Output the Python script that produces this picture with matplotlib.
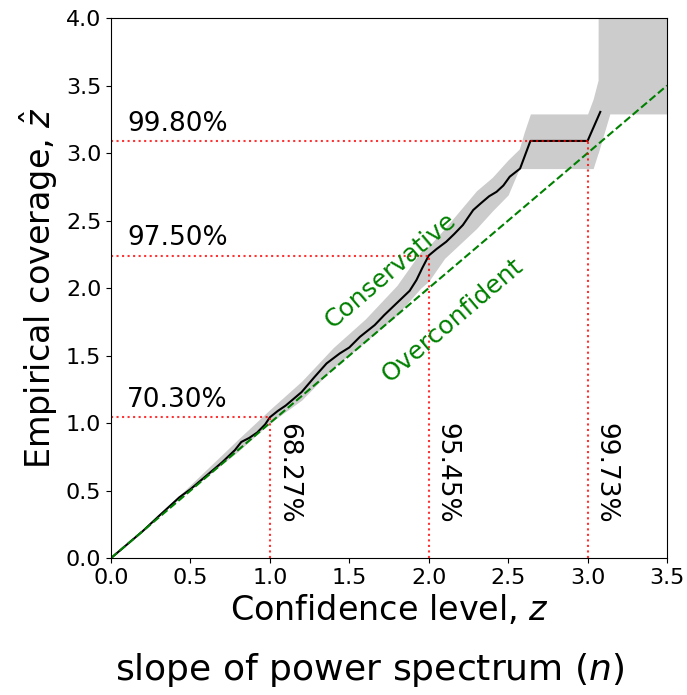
import numpy as np
import matplotlib.pyplot as plt

# empirical coverage z_hat against nominal confidence level z
z_nominal = [0.0, 0.1, 0.2, 0.3, 0.43, 0.5, 0.6, 0.7, 0.78, 0.82, 0.87, 0.92,
             0.97, 1.0, 1.05, 1.1, 1.2, 1.28, 1.357, 1.44, 1.5, 1.567, 1.66,
             1.72, 1.8, 1.88, 1.923, 1.96, 2.0, 2.05, 2.11, 2.16, 2.215, 2.28,
             2.33, 2.38, 2.427, 2.47, 2.51, 2.575, 2.64, 3.0, 3.08]
z_hat = [0.0, 0.1, 0.2, 0.31, 0.45, 0.51, 0.61, 0.71, 0.80, 0.86, 0.89, 0.93,
         0.99, 1.043, 1.09, 1.13, 1.23, 1.34, 1.442, 1.516, 1.56, 1.639, 1.726,
         1.80, 1.89, 1.98, 2.06, 2.15, 2.241, 2.29, 2.343, 2.40, 2.467, 2.578,
         2.63, 2.68, 2.713, 2.76, 2.825, 2.885, 3.090, 3.090, 3.305]

# uncertainty band on z_hat
band_z = [0.0, 0.4, 0.8, 1.0, 1.2, 1.4, 1.6, 1.8, 1.95, 2.0, 2.1, 2.2, 2.3,
          2.4, 2.5, 2.57, 2.6, 2.64, 3.0, 3.035, 3.066, 3.067, 3.14, 3.5]
band_lo = [0.0, 0.41, 0.79, 1.00, 1.17, 1.41, 1.60, 1.80, 2.0, 2.05, 2.22,
           2.33, 2.44, 2.57, 2.69, 2.885, 2.885, 2.885, 2.885, 2.885, 3.0,
           3.0, 3.29, 3.29]
band_hi = [0.0, 0.43, 0.88, 1.10, 1.31, 1.56, 1.77, 2.02, 2.27, 2.31, 2.44,
           2.58, 2.72, 2.82, 2.95, 3.03, 3.15, 3.29, 3.29, 3.40, 3.54, 4.5,
           4.5, 4.5]

# reference sigma levels and the coverage reached there
ref_z = [1.0, 2.0, 3.0]
ref_nominal = ["68.27%", "95.45%", "99.73%"]
ref_zhat = [1.043, 2.241, 3.090]
ref_empirical = ["70.30%", "97.50%", "99.80%"]

fig = plt.figure(figsize=(6.87, 6.95), dpi=100)
ax = fig.add_axes([0.1616, 0.197, 0.8093, 0.777])

ax.fill_between(band_z, band_lo, band_hi, color="gray", alpha=0.4, lw=0)
ax.plot(z_nominal, z_hat, color="k", lw=1.5)
ax.plot([0, 3.5], [0, 3.5], "--", color="green", lw=1.5)

for z, zh, lab_n, lab_e in zip(ref_z, ref_zhat, ref_nominal, ref_empirical):
    ax.plot([0, z], [zh, zh], ":", color="red", lw=1.5, alpha=0.8)
    ax.plot([z, z], [0, zh], ":", color="red", lw=1.5, alpha=0.8)
    ax.text(0.1, zh + 0.03, lab_e, fontsize=19, ha="left", va="bottom")
    ax.text(z + 0.03, 1.0, lab_n, rotation=270, fontsize=19,
            ha="left", va="top")

ax.text(1.76, 2.13, "Conservative", rotation=40.4, color="green",
        fontsize=18, ha="center", va="center")
ax.text(2.15, 1.76, "Overconfident", rotation=40.4, color="green",
        fontsize=18, ha="center", va="center")

ax.set_xlim(0, 3.5)
ax.set_ylim(0, 4.0)
ax.set_xticks(np.arange(0, 3.51, 0.5))
ax.set_yticks(np.arange(0, 4.01, 0.5))
ax.tick_params(labelsize=16)
ax.set_xlabel("Confidence level, $z$", fontsize=24)
ax.set_ylabel("Empirical coverage, $\\hat{z}$", fontsize=24)

fig.text(370 / 687, 0.022, "slope of power spectrum ($n$)", fontsize=26,
         ha="center", va="baseline")

fig.savefig("out.png", dpi=100)
